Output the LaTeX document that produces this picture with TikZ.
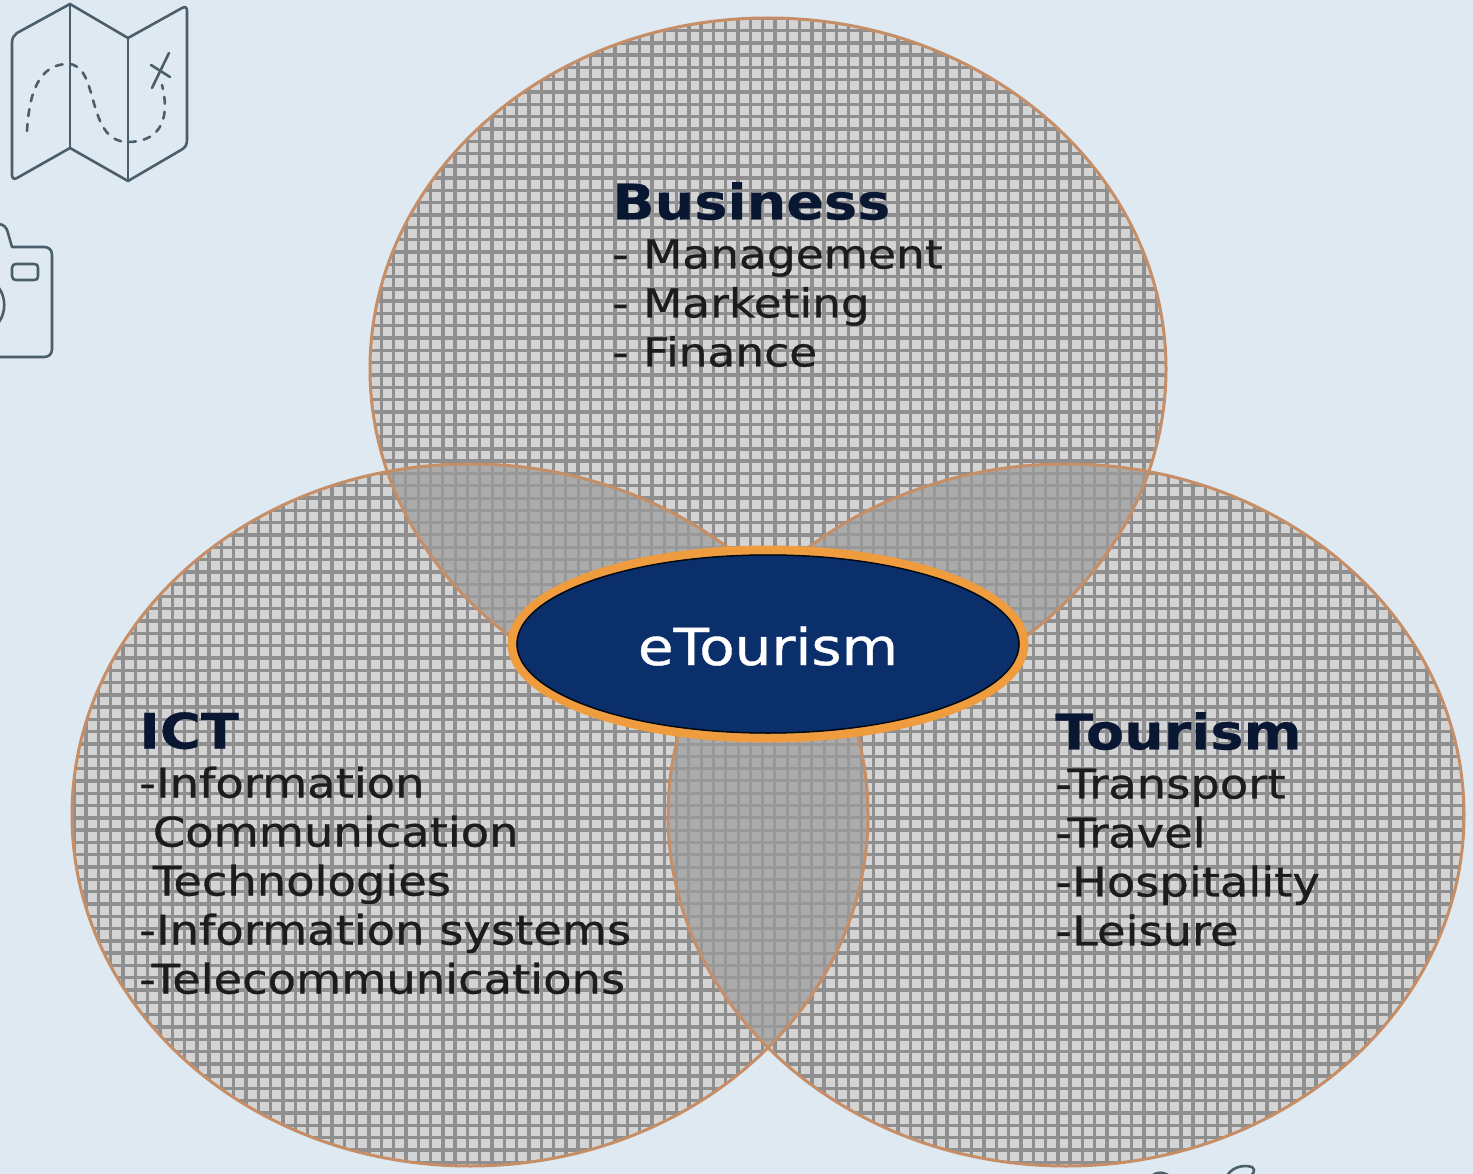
\documentclass[tikz,border=0pt]{standalone}
\usepackage{fontspec}
\setmainfont{DejaVu Sans}
\newfontfamily\itemfont[FakeBold=0.7]{DejaVu Sans}
\newfontfamily\headfont[FakeBold=0.4]{DejaVu Sans Bold}
\definecolor{pagebg}{HTML}{DFE9F2}
\definecolor{meshfg}{HTML}{8F8F8F}
\definecolor{meshbg}{HTML}{D4D4D4}
\definecolor{lensfg}{HTML}{989898}
\definecolor{lensbg}{HTML}{ABABAB}
\definecolor{rimcol}{HTML}{C68E66}
\definecolor{ovalcol}{HTML}{0B2F6A}
\definecolor{ovalrim}{HTML}{EE9C3E}
\definecolor{headcol}{HTML}{0A1733}
\definecolor{itemcol}{HTML}{1C1C1C}
\definecolor{iconcol}{HTML}{4A5F6B}
\tikzset{
	lobetext/.style={anchor=north west, inner sep=0pt, align=left, text=itemcol, xscale=1.137, transform shape},
	iconline/.style={draw=iconcol, line width=2.6pt, line join=round, line cap=round},
	rimline/.style={draw=rimcol, line width=3pt}
}
\newcommand{\lobeshape}[2] % x, y of centre in px
{
	(#1,#2) ellipse [x radius=398, y radius=351]
}
\newcommand{\meshlines}[2] % colour, width in pt
{
	\foreach \gx in {0,12.3,...,1480}
		\draw[#1, line width=#2pt] (\gx,0) -- (\gx,1174);
	\foreach \gy in {6,18.3,...,1180}
		\draw[#1, line width=#2pt] (0,\gy) -- (1473,\gy);
}
\newcommand{\lobe}[2] % x, y of centre in px
{
	\begin{scope}
		\clip \lobeshape{#1}{#2};
		\fill[meshbg] (0,0) rectangle (1473,1174);
		\meshlines{meshfg}{3.4}
	\end{scope}
}
\newcommand{\lens}[4] % two centres
{
	\begin{scope}
		\clip \lobeshape{#1}{#2};
		\clip \lobeshape{#3}{#4};
		\fill[lensbg] (0,0) rectangle (1473,1174);
		\meshlines{lensfg}{3}
	\end{scope}
}
\newcommand{\headline}[1] % bold first line of a block
{
	{\fontsize{49}{49}\selectfont\headfont\color{headcol}#1}
}
\begin{document}
\begin{tikzpicture}[x=1pt, y=-1pt]
	% 1473 x 1174 px, y runs downwards
	\useasboundingbox (0,0) rectangle (1473,1174);
	\clip (0,0) rectangle (1473,1174);
	\fill[pagebg] (0,0) rectangle (1473,1174);

	% the three lobes
	\lobe{768}{369}
	\lobe{470}{815}
	\lobe{1066}{815}
	\lens{768}{369}{470}{815}
	\lens{768}{369}{1066}{815}
	\lens{470}{815}{1066}{815}
	\draw[rimline] \lobeshape{768}{369};
	\draw[rimline] \lobeshape{470}{815};
	\draw[rimline] \lobeshape{1066}{815};

	% centre oval
	\draw[ovalrim, line width=9pt, fill=ovalcol] (768,644) ellipse [x radius=256, y radius=94];
	\draw[black!80!ovalcol, line width=1.5pt] (768,644) ellipse [x radius=251, y radius=89];
	\node[inner sep=0pt, text=white, xscale=1.137, transform shape, font=\fontsize{51}{49}\itemfont] (etourism) at (768,646) {eTourism};

	% texts
	\node[lobetext, font=\fontsize{40}{49}\itemfont] (business) at (612,182) {\headline{Business}\\- Management\\- Marketing\\- Finance};
	\node[lobetext, font=\fontsize{40.8}{49}\itemfont] (ict) at (139,712) {\headline{ICT}\\-Information\\\hspace*{12pt}Communication\\\hspace*{12pt}Technologies\\-Information systems\\-Telecommunications};
	\node[lobetext, font=\fontsize{40.8}{49}\itemfont] (tourism) at (1055,712) {\headline{Tourism}\\-Transport\\-Travel\\-Hospitality\\-Leisure};

	% map icon
	\draw[iconline] (70,4) -- (128,38) -- (182,8) .. controls (186,6) and (187,8) .. (187,11) -- (187,140) .. controls (187,145) and (185,148) .. (181,150) -- (128,181) -- (70,148) -- (17,178) .. controls (14,180) and (12,178) .. (12,175) -- (12,43) .. controls (12,38) and (14,35) .. (17,33) -- cycle;
	\draw[iconline] (70,4) -- (70,148);
	\draw[iconline] (128,38) -- (128,181);
	\draw[iconline, dash pattern=on 7pt off 8pt] (27,131) .. controls (29,95) and (38,64) .. (68,64) .. controls (100,64) and (85,142) .. (128,142) .. controls (155,142) and (172,125) .. (162,85);
	\draw[iconline] (169,53) -- (152,88);
	\draw[iconline] (151,65) -- (170,77);

	% camera icon, cut by the page edge
	\draw[iconline] (-2,224) .. controls (4,224) and (7,228) .. (8,233) -- (12,247) -- (44,247) .. controls (49,247) and (52,250) .. (52,255) -- (52,349) .. controls (52,354) and (49,357) .. (44,357) -- (-2,357);
	\draw[iconline] (12,268) .. controls (12,265) and (14,264) .. (16,264) -- (34,264) .. controls (37,264) and (38,265) .. (38,268) -- (38,276) .. controls (38,279) and (37,280) .. (34,280) -- (16,280) .. controls (14,280) and (12,279) .. (12,276) -- cycle;
	\draw[iconline] (-1,288) .. controls (6,298) and (6,312) .. (-1,322);

	% icon cut by the lower edge
	\draw[iconline] (1150,1178) .. controls (1155,1171) and (1165,1171) .. (1172,1178);
	\draw[iconline] (1226,1178) .. controls (1230,1168) and (1242,1164) .. (1252,1167) .. controls (1257,1170) and (1252,1176) .. (1248,1178);
\end{tikzpicture}
\end{document}
